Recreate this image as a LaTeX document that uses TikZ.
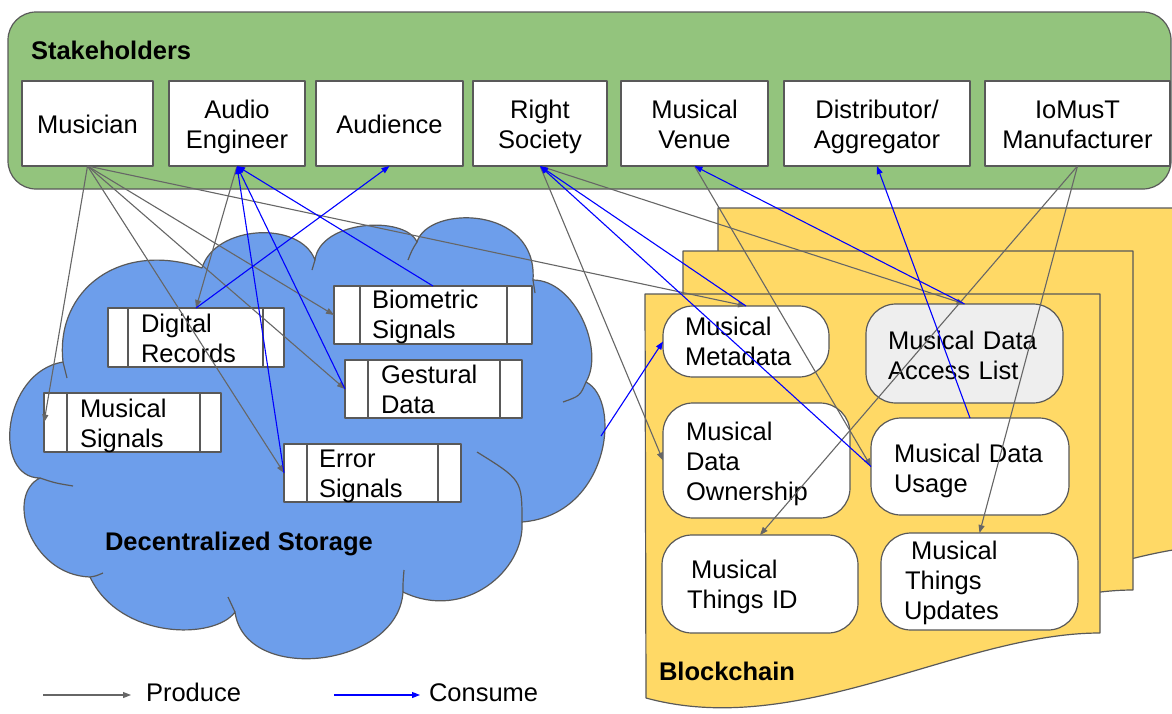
\documentclass[tikz,border=0pt]{standalone}
\usepackage{fontspec}
\setmainfont{Liberation Sans}
\usetikzlibrary{arrows.meta}
\definecolor{stkgreen}{HTML}{93C47D}
\definecolor{cloudblue}{HTML}{6D9EEB}
\definecolor{chainyellow}{HTML}{FFD966}
\definecolor{edgegray}{HTML}{595959}
\definecolor{pillgray}{HTML}{EEEEEE}
\definecolor{prodgray}{HTML}{666666}
\definecolor{consblue}{HTML}{0000FF}
\begin{document}
\begin{tikzpicture}[x=1pt,y=-1pt,line join=round,
  every node/.style={font=\fontsize{25.5}{30}\selectfont, inner sep=0pt, outer sep=0pt},
  edge/.style={draw=edgegray, line width=1.2pt},
  sbox/.style={edge, fill=white, rectangle},
  pbox/.style={edge, fill=white, rectangle},
  pill/.style={edge, fill=white, rectangle, rounded corners=30pt},
  ctext/.style={anchor=base, align=center},
  ltext/.style={anchor=base west, align=left, text width=220pt},
  title/.style={font=\fontsize{25.5}{30}\selectfont\bfseries, anchor=base west},
  page/.style={edge, fill=chainyellow},
  produce/.style={draw=prodgray, line width=1.1pt, -{Triangle[length=8pt,width=6pt]}},
  consume/.style={draw=consblue, line width=1.1pt, -{Triangle[length=8pt,width=6pt]}},
]
\useasboundingbox (0,0) rectangle (1172,713);

% ---------- Stakeholders ----------
\node[edge, fill=stkgreen, rectangle, rounded corners=28pt, minimum width=1163pt, minimum height=177pt] (stk) at (589.5,100.5) {};
\node[title] (stkT) at (31,59) {Stakeholders};

\node[sbox, minimum width=131pt, minimum height=85pt] (mus) at (87.5,123.5) {};
\node[sbox, minimum width=136pt, minimum height=85pt] (ae)  at (237,123.5) {};
\node[sbox, minimum width=147pt, minimum height=85pt] (aud) at (389.5,123.5) {};
\node[sbox, minimum width=134pt, minimum height=85pt] (rs)  at (540,123.5) {};
\node[sbox, minimum width=147pt, minimum height=85pt] (mv)  at (694.5,123.5) {};
\node[sbox, minimum width=186pt, minimum height=85pt] (dis) at (877,123.5) {};
\node[sbox, minimum width=185pt, minimum height=85pt] (iom) at (1077.5,123.5) {};

\node[ctext, text width=131pt] (musT) at (87.5,133) {Musician};
\node[ctext, text width=136pt] (aeT)  at (237,118) {Audio\\Engineer};
\node[ctext, text width=147pt] (audT) at (389.5,133) {Audience};
\node[ctext, text width=134pt] (rsT)  at (540,118) {Right\\Society};
\node[ctext, text width=147pt] (mvT)  at (694.5,118) {Musical\\Venue};
\node[ctext, text width=186pt] (disT) at (877,118) {Distributor/\\Aggregator};
\node[ctext, text width=185pt] (iomT) at (1077.5,118) {IoMusT\\Manufacturer};

% ---------- Decentralized storage cloud ----------
\filldraw[edge, fill=cloudblue] (40,478)
  .. controls (-8,478) and (2,372) .. (63,362)
  .. controls (55,290) and (120,240) .. (202,268)
  .. controls (215,225) and (300,220) .. (315,260)
  .. controls (320,220) and (405,215) .. (417,242)
  .. controls (428,205) and (538,205) .. (533,280)
  .. controls (575,280) and (605,350) .. (586,382)
  .. controls (622,400) and (610,515) .. (522,522)
  .. controls (525,570) and (465,622) .. (403,592)
  .. controls (398,668) and (245,685) .. (235,612)
  .. controls (215,640) and (120,640) .. (90,577)
  .. controls (30,575) and (5,495) .. (40,478) -- cycle;
\draw[edge] (63,362) .. controls (65,370) .. (67,378);
\draw[edge] (40,478) .. controls (55,483) .. (73,486);
\draw[edge] (90,577) .. controls (96,576) .. (103,573);
\draw[edge] (235,612) .. controls (231,605) .. (228,597);
\draw[edge] (403,592) .. controls (403,582) .. (404,570);
\draw[edge] (522,522) .. controls (522,480) .. (477,452);
\draw[edge] (586,382) .. controls (580,396) .. (563,402);
\draw[edge] (533,280) .. controls (534,287) .. (535,293);
\draw[edge] (417,242) .. controls (412,250) .. (408,260);
\draw[edge] (315,260) .. controls (313,265) .. (312,270);
\coordinate (cloudR) at (601,436);

\node[pbox, minimum width=176pt, minimum height=59pt] (dr) at (196,337.5) {};
\node[pbox, minimum width=198pt, minimum height=58pt] (bs) at (433,315) {};
\node[pbox, minimum width=177pt, minimum height=58pt] (gd) at (433.5,389) {};
\node[pbox, minimum width=177pt, minimum height=59pt] (ms) at (132.5,422.5) {};
\node[pbox, minimum width=177pt, minimum height=58pt] (es) at (372.5,473) {};
\foreach \n/\l/\r in {dr/20/21, bs/26/25, gd/23/22, ms/23/21, es/23/23}{
  \draw[edge] ([xshift=\l pt]\n.north west) -- ([xshift=\l pt]\n.south west);
  \draw[edge] ([xshift=-\r pt]\n.north east) -- ([xshift=-\r pt]\n.south east);
}
\node[ltext] (drT) at (141,332) {Digital\\Records};
\node[ltext] (bsT) at (372,308) {Biometric\\Signals};
\node[ltext] (gdT) at (381,383) {Gestural\\Data};
\node[ltext] (msT) at (80,417) {Musical\\Signals};
\node[ltext] (esT) at (319,467) {Error\\Signals};
\node[title] (dsT) at (105,550) {Decentralized Storage};

% ---------- Blockchain ----------
\filldraw[page] (718,208) -- (1215,208) -- (1215,546) .. controls (1100,546) and (900,660) .. (718,620) -- cycle;
\filldraw[page] (683,251) -- (1133,251) -- (1133,590) .. controls (1000,590) and (850,700) .. (683,655) -- cycle;
\filldraw[page] (645,294) -- (1100,294) -- (1100,633) .. controls (960,633) and (800,740) .. (646,698) -- cycle;

\node[pill, minimum width=166pt, minimum height=71pt] (md) at (746,341.5) {};
\node[pill, fill=pillgray, minimum width=197pt, minimum height=99pt] (al) at (964.5,353.5) {};
\node[pill, minimum width=187pt, minimum height=115pt] (ow) at (756.5,460.5) {};
\node[pill, minimum width=198pt, minimum height=97pt] (us) at (970,466.5) {};
\node[pill, minimum width=196pt, minimum height=98pt] (tid) at (760,584) {};
\node[pill, minimum width=197pt, minimum height=97pt] (tu) at (979.5,581.5) {};

\node[ltext] (mdT) at (685,335) {Musical\\Metadata};
\node[ltext] (alT) at (888,349) {Musical Data\\Access List};
\node[ltext] (owT) at (686,440) {Musical\\Data\\Ownership};
\node[ltext] (usT) at (894,462) {Musical Data\\Usage};
\node[ltext] (tidT) at (687,578) {\hspace*{4pt}Musical\\Things ID};
\node[ltext] (tuT) at (904,559) {\hspace*{7pt}Musical\\\hspace*{1pt}Things\\Updates};
\node[title] (bcT) at (659,680) {Blockchain};

% ---------- Produce arrows ----------
\draw[produce] (mus.south) -- (ms.west);
\draw[produce] (mus.south) -- (es.west);
\draw[produce] (mus.south) -- (gd.west);
\draw[produce] (mus.south) -- (bs.west);
\draw[produce] (mus.south) -- (md.north);
\draw[produce] (ae.south) -- (dr.north);
\draw[produce] (rs.south) -- (ow.west);
\draw[produce] (rs.south) -- (al.north);
\draw[produce] (mv.south) -- (us.west);
\draw[produce] (iom.south) -- (tid.north);
\draw[produce] (iom.south) -- (tu.north);

% ---------- Consume arrows ----------
\draw[consume] (dr.north) -- (aud.south);
\draw[consume] (bs.north) -- (ae.south);
\draw[consume] (gd.west) -- (ae.south);
\draw[consume] (es.west) -- (ae.south);
\draw[consume] (md.north) -- (rs.south);
\draw[consume] (us.west) -- (rs.south);
\draw[consume] (al.north) -- (mv.south);
\draw[consume] (us.north) -- (dis.south);
\draw[consume] (cloudR) -- (md.west);

% ---------- Legend ----------
\coordinate (lgp1) at (43,695);
\coordinate (lgp2) at (131,695);
\draw[produce] (lgp1) -- (lgp2);
\node[anchor=base west] (lgprod) at (146,701) {Produce};
\coordinate (lgc1) at (334,695);
\coordinate (lgc2) at (420,695);
\draw[consume] (lgc1) -- (lgc2);
\node[anchor=base west] (lgcons) at (429,701) {Consume};
\end{tikzpicture}
\end{document}
